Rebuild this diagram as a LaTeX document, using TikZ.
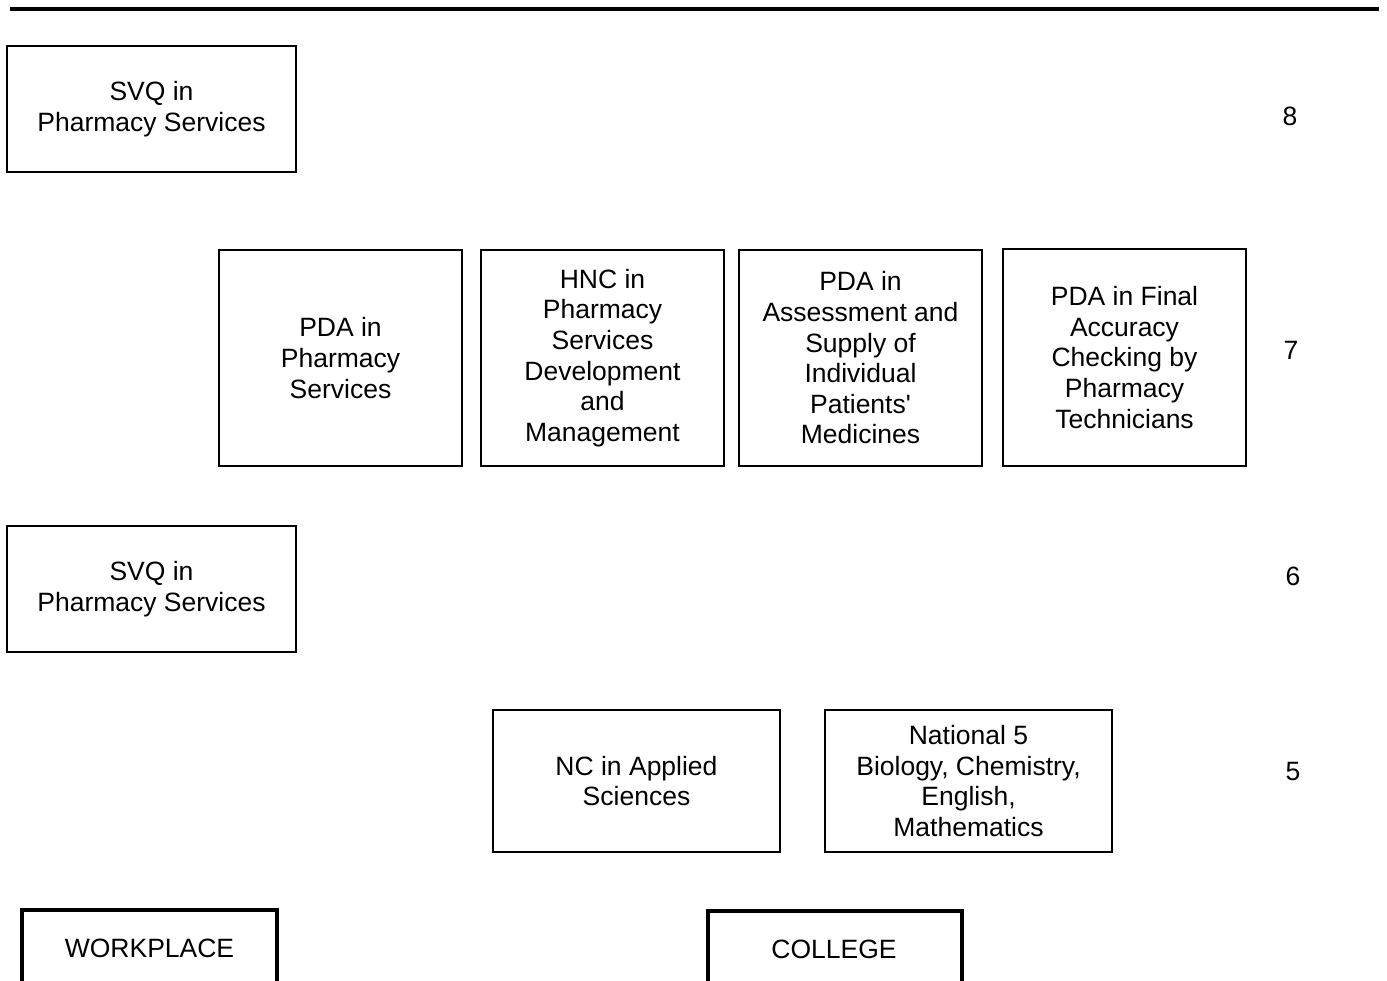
\documentclass[tikz,border=0pt]{standalone}
\usepackage{fontspec}
\setmainfont{Liberation Sans}
\begin{document}
\begin{tikzpicture}[x=1pt,y=-1pt,
  qbox/.style={draw=black,line width=1.5pt,rectangle,inner sep=0pt,align=center,
    font=\fontsize{26.5}{30.6}\selectfont},
  lvl/.style={inner sep=0pt,font=\fontsize{26.5}{30.6}\selectfont},
  base/.style={draw=black,line width=4pt},
  basetxt/.style={inner sep=0pt,font=\fontsize{26.5}{30.6}\selectfont}]
\useasboundingbox (0,0) rectangle (1387,981);
\fill[white] (0,0) rectangle (1387,981);
\coordinate (tl) at (10,9);
\coordinate (tr) at (1379,9);
\draw[line width=4pt] (tl) -- (tr);

% level 8
\node[qbox,minimum width=289pt,minimum height=126pt] (svq8) at (151.5,109) {SVQ in\\Pharmacy Services};
\node[lvl] (l8) at (1290,116) {8};

% level 7
\node[qbox,minimum width=243pt,minimum height=216pt] (pda7) at (340.5,358) {PDA in\\Pharmacy\\Services};
\node[qbox,minimum width=243pt,minimum height=216pt] (hnc7) at (602.5,358) {HNC in\\Pharmacy\\Services\\Development\\and\\Management};
\node[qbox,minimum width=243pt,minimum height=216pt] (ass7) at (860.5,358) {PDA in\\Assessment and\\Supply of\\Individual\\Patients\textquotesingle\\Medicines};
\node[qbox,minimum width=243pt,minimum height=217pt] (fin7) at (1124.5,357.5) {PDA in Final\\Accuracy\\Checking by\\Pharmacy\\Technicians};
\node[lvl] (l7) at (1291,350) {7};

% level 6
\node[qbox,minimum width=289pt,minimum height=126pt] (svq6) at (151.5,589) {SVQ in\\Pharmacy Services};
\node[lvl] (l6) at (1293,576) {6};

% level 5
\node[qbox,minimum width=287pt,minimum height=142pt] (nc5) at (636.5,781) {NC in Applied\\Sciences};
\node[qbox,minimum width=287pt,minimum height=142pt] (nat5) at (968.5,781) {National 5\\Biology, Chemistry,\\English,\\Mathematics};
\node[lvl] (l5) at (1293,772) {5};

% bases
\draw[base] (22,1010) -- (22,910) -- (277,910) -- (277,1010);
\node[basetxt] (work) at (149.5,948) {WORKPLACE};
\draw[base] (708,1010) -- (708,911) -- (962,911) -- (962,1010);
\node[basetxt] (coll) at (834,949) {COLLEGE};
\end{tikzpicture}
\end{document}
